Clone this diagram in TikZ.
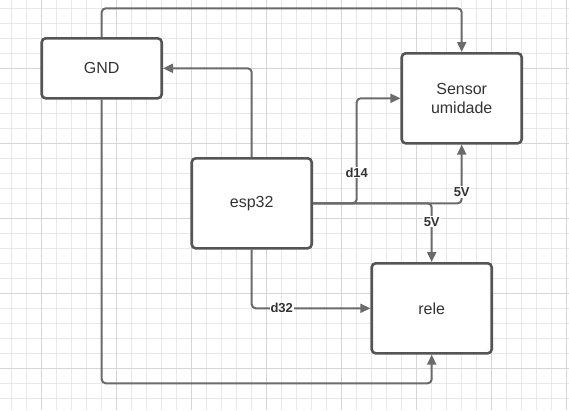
\documentclass[tikz,border=0pt]{standalone}
\usepackage{fontspec}
\setmainfont{Liberation Sans}
\usetikzlibrary{arrows.meta}
\definecolor{minorc}{HTML}{E8E8E8}
\definecolor{majorc}{HTML}{D6D6D6}
\definecolor{boxc}{HTML}{555555}
\definecolor{linec}{HTML}{6B6B6B}
\definecolor{txtc}{HTML}{333333}
\tikzset{
  minorgrid/.style={draw=minorc, line width=0.8pt},
  majorgrid/.style={draw=majorc, line width=1pt},
  blockbox/.style={draw=boxc, line width=2.6pt, rounded corners=4pt, fill=white,
    minimum width=120pt, inner sep=0pt, align=center, text=txtc,
    font=\fontsize{16}{19}\selectfont},
  conn/.style={draw=linec, line width=2pt, rounded corners=4pt,
    -{Triangle[length=10pt,width=9pt]}},
  lbl/.style={fill=white, inner sep=1pt, text=txtc,
    font=\bfseries\fontsize{13}{15}\selectfont}
}
\begin{document}
\begin{tikzpicture}[x=1pt,y=-1pt]
\useasboundingbox (0,0) rectangle (569,410);
\fill[white] (0,0) rectangle (569,410);
% grid
\foreach \i in {0,...,37} \draw[minorgrid] (11.7+15*\i,0) -- ++(0,410);
\foreach \j in {0,...,26} \draw[minorgrid] (0,8.3+15*\j) -- ++(569,0);
\foreach \i in {0,...,7} \draw[majorgrid] (41.7+75*\i,0) -- ++(0,410);
\foreach \j in {0,...,4} \draw[majorgrid] (0,68.3+75*\j) -- ++(569,0);
% coordinates
\coordinate (topy) at (0,8.3);
\coordinate (boty) at (0,383.3);
\coordinate (c14) at (356.7,203.3);
% boxes
\node[blockbox, minimum height=60pt] (gnd) at (101.7,68.3) {GND};
\node[blockbox, minimum height=90pt] (sensor) at (461.7,98.3) {Sensor\\umidade};
\node[blockbox, minimum height=90pt] (esp) at (251.7,203.3) {esp32};
\node[blockbox, minimum height=90pt] (rele) at (431.7,308.3) {rele};
% connectors
\draw[conn] (gnd.north) -- (gnd.north |- topy) -| (sensor.north);
\draw[conn] (esp.north) |- (gnd.east);
\draw[conn] (esp.east) -| (sensor.south);
\draw[conn] (esp.east) -| (rele.north);
\draw[conn] (esp.east) -- (c14) |- (sensor.west);
\draw[conn] (esp.south) |- (rele.west);
\draw[conn] (gnd.south) -- (gnd.south |- boty) -| (rele.south);
% labels
\node[lbl] (l14) at (356.7,172.7) {d14};
\node[lbl] (l5a) at (461.7,192) {5V};
\node[lbl] (l5b) at (431.7,221.7) {5V};
\node[lbl] (l32) at (281.7,308.3) {d32};
\end{tikzpicture}
\end{document}
